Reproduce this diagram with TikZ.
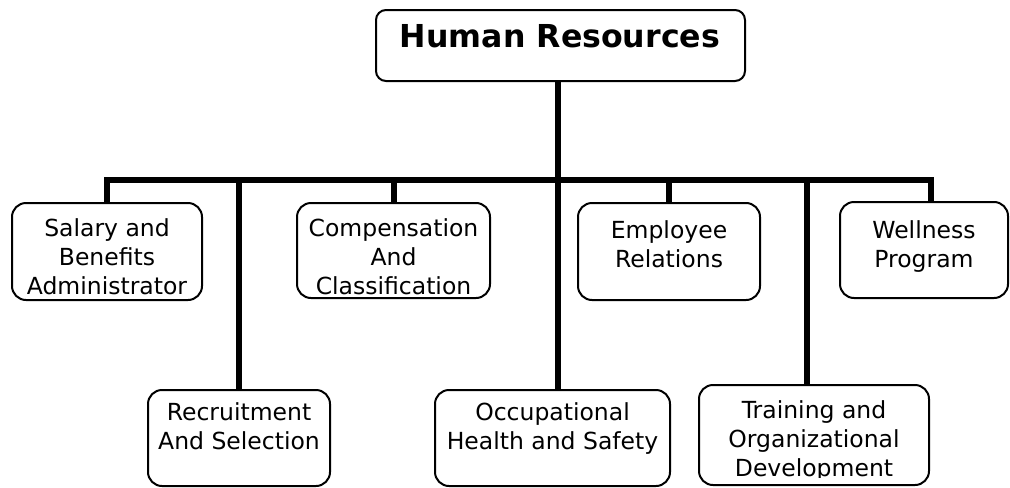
\documentclass[tikz,border=0pt]{standalone}
\usepackage{fontspec}
\setmainfont{DejaVu Sans}
\begin{document}
\begin{tikzpicture}[x=0.5pt,y=-0.5pt,
  box/.style={draw=black, line width=1pt, rounded corners=7pt, fill=white, inner sep=0pt},
  conn/.style={draw=black, line width=3pt, line join=miter},
  txt/.style={anchor=north, align=center, inner sep=0pt, font=\fontsize{11.75pt}{14.5pt}\selectfont},
  ttl/.style={anchor=north, inner sep=0pt, font=\fontsize{15.8pt}{19pt}\selectfont\bfseries}]
\useasboundingbox (0,0) rectangle (1010,487);
\coordinate (bus) at (0,180);
% boxes
\node[box, rounded corners=5pt, minimum width=184.5pt, minimum height=35.5pt] (hr) at (560.5,45.5) {};
\node[box, minimum width=95pt, minimum height=48.5pt] (sal) at (107,251.5) {};
\node[box, minimum width=91pt, minimum height=48pt] (rec) at (239,438) {};
\node[box, minimum width=96.5pt, minimum height=47.5pt] (com) at (393.5,250.5) {};
\node[box, minimum width=117.5pt, minimum height=48pt] (occ) at (552.5,438) {};
\node[box, minimum width=91pt, minimum height=48.5pt] (emp) at (669,251.5) {};
\node[box, minimum width=115pt, minimum height=50pt] (tra) at (814,435) {};
\node[box, minimum width=84pt, minimum height=48pt] (wel) at (924,250) {};
% texts
\node[ttl] (hrT) at (560,24) {Human Resources};
\node[txt] (salT) at (107,218) {Salary and\\Benefits\\Administrator};
\node[txt] (comT) at (393.5,218.5) {Compensation\\And\\Classification};
\node[txt] (empT) at (669,220) {Employee\\Relations};
\node[txt] (welT) at (924,220) {Wellness\\Program};
\node[txt] (recT) at (239,402) {Recruitment\\And Selection};
\node[txt] (occT) at (552.5,402) {Occupational\\Health and Safety};
\begin{scope}
\clip (699,380) rectangle (929,477);
\node[txt] (traT) at (814,400) {Training and\\Organizational\\Development};
\end{scope}
% connectors
\draw[conn] (sal.north) -- (sal.north |- bus) -- ([xshift=3.5pt]wel.north |- bus) -- ([xshift=3.5pt]wel.north);
\draw[conn] (rec.north) -- (rec.north |- bus);
\draw[conn] (com.north) -- (com.north |- bus);
\draw[conn] (emp.north) -- (emp.north |- bus);
\draw[conn] ([xshift=-3.5pt]tra.north) -- ([xshift=-3.5pt]tra.north |- bus);
\draw[conn] ([xshift=-1.25pt]hr.south) -- ([xshift=-1.25pt]hr.south |- occ.north);
\end{tikzpicture}
\end{document}
